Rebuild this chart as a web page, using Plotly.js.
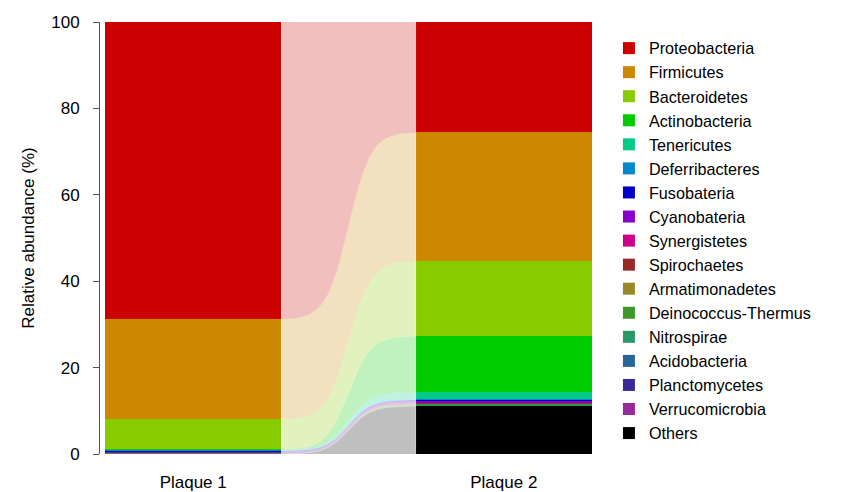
<!DOCTYPE html>
<html>
<head>
<meta charset="utf-8">
<script src="https://cdn.plot.ly/plotly-3.0.1.min.js"></script>
<style>html,body{margin:0;padding:0;background:#fff;}#chart{width:850px;height:492px;}</style>
</head>
<body>
<div id="chart"></div>
<script>
// Taxa listed top-to-bottom (legend order)
const taxa = ['Proteobacteria','Firmicutes','Bacteroidetes','Actinobacteria','Tenericutes',
  'Deferribacteres','Fusobateria','Cyanobateria','Synergistetes','Spirochaetes',
  'Armatimonadetes','Deinococcus-Thermus','Nitrospirae','Acidobacteria','Planctomycetes',
  'Verrucomicrobia','Others'];
const taxaColors = ['#CC0000','#CC8800','#88CC00','#00CC00','#00CC88',
  '#0088CC','#0000CC','#8800CC','#CC0088','#992828',
  '#998828','#3C9928','#289966','#286699','#3C2899',
  '#992899','#000000'];
const samples = ['Plaque 1','Plaque 2'];
const plaque1 = [68.75, 23.2, 7.0, 0.10, 0.05, 0.20, 0.25, 0.20, 0.05, 0.05, 0.02, 0.03, 0.02, 0.02, 0.02, 0.02, 0.02];
const plaque2 = [25.5, 29.8, 17.4, 12.9, 1.7, 0.15, 0.35, 0.30, 0.05, 0.30, 0.05, 0.25, 0.05, 0.05, 0.03, 0.02, 11.1];
const yTicks = [0, 20, 40, 60, 80, 100];

const xPos = [0, 1];
const barW = 0.568;

function lighten(hex, a) {
  const r = parseInt(hex.slice(1,3),16), g = parseInt(hex.slice(3,5),16), b = parseInt(hex.slice(5,7),16);
  const m = c => Math.round(255*(1-a) + c*a);
  return 'rgb(' + m(r) + ',' + m(g) + ',' + m(b) + ')';
}
function sig(t) {
  const k = 12;
  const L = u => 1/(1+Math.exp(-k*(u-0.5)));
  return (L(t)-L(0))/(L(1)-L(0));
}

const traces = [];
const n = taxa.length;
let low1 = 0, low2 = 0;
const xa = xPos[0] + barW/2, xb = xPos[1] - barW/2;
const N = 80;
for (let j = n-1; j >= 0; j--) {
  const up1 = low1 + plaque1[j], up2 = low2 + plaque2[j];
  const xs = [], ys = [];
  for (let i = 0; i <= N; i++) {
    const t = i/N; xs.push(xa + (xb-xa)*t); ys.push(up1 + (up2-up1)*sig(t));
  }
  for (let i = N; i >= 0; i--) {
    const t = i/N; xs.push(xa + (xb-xa)*t); ys.push(low1 + (low2-low1)*sig(t));
  }
  const fc = lighten(taxaColors[j], 0.25);
  traces.push({
    type: 'scatter', mode: 'lines', x: xs, y: ys, fill: 'toself',
    fillcolor: fc, line: {width: 0.6, color: fc}, showlegend: false, hoverinfo: 'skip'
  });
  low1 = up1; low2 = up2;
}
for (let j = n-1; j >= 0; j--) {
  traces.push({
    type: 'bar', name: taxa[j], x: xPos, y: [plaque1[j], plaque2[j]], width: barW,
    marker: {color: taxaColors[j], line: {width: 0}}
  });
}

const font = 'Liberation Sans, Arial, sans-serif';
const layout = {
  width: 850, height: 492,
  margin: {l: 100, r: 253, t: 22, b: 38},
  barmode: 'stack',
  plot_bgcolor: '#fff', paper_bgcolor: '#fff',
  font: {family: font, size: 17, color: '#000'},
  xaxis: {
    range: [-0.3, 1.3], tickvals: xPos, ticktext: samples, ticks: '',
    showgrid: false, zeroline: false, showline: false,
    ticklabelstandoff: 16, tickfont: {size: 17, color: '#000'}, fixedrange: true
  },
  yaxis: {
    range: [0, 100], tickvals: yTicks, ticks: 'outside', ticklen: 6, tickcolor: '#555',
    showline: true, linecolor: '#555', linewidth: 1, showgrid: false, zeroline: false,
    ticklabelstandoff: 10, tickfont: {size: 17, color: '#000'},
    title: {text: 'Relative abundance (%)', font: {size: 17, color: '#000'}, standoff: 12}
  },
  legend: {
    x: 1.024, xanchor: 'left', y: 0.979, yanchor: 'top', traceorder: 'reversed',
    font: {size: 16.2, color: '#000'}, itemwidth: 30, bgcolor: 'rgba(0,0,0,0)'
  },
  showlegend: true
};
Plotly.newPlot('chart', traces, layout, {displayModeBar: false, staticPlot: true});
</script>
</body>
</html>
